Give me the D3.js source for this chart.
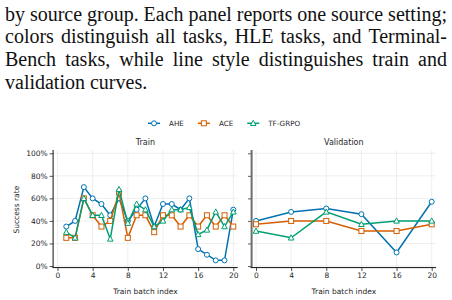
<!DOCTYPE html>
<html>
<head>
<meta charset="utf-8">
<script src="https://cdn.jsdelivr.net/npm/d3@7"></script>
<style>
  html, body { margin: 0; padding: 0; background: #fff; }
  svg { display: block; }
  .tick text { font-family: "DejaVu Sans", sans-serif; font-size: 7.5px; fill: #262626; }
  .tick line { stroke: #262626; stroke-width: 0.8; }
</style>
</head>
<body>
<div id="chart"></div>
<script>
// paragraph text above the figure
const captionLines = [
  "by source group. Each panel reports one source setting;",
  "colors distinguish all tasks, HLE tasks, and Terminal-",
  "Bench tasks, while line style distinguishes train and",
  "validation curves."
];

// train panel
const trainBatch = [1, 2, 3, 4, 5, 6, 7, 8, 9, 10, 11, 12, 13, 14, 15, 16, 17, 18, 19, 20];
const trainAHE = [35, 40, 70, 60, 55, 45, 60, 40, 50, 60, 35, 55, 55, 50, 60, 15, 10, 5, 5, 50];
const trainACE = [25, 25, 60, 45, 35, 40, 65, 25, 45, 45, 30, 45, 45, 35, 45, 35, 45, 35, 45, 35];
const trainTF = [30, 25, 60, 45, 45, 24, 68, 38, 55, 50, 35, 40, 50, 50, 52, 28, 32, 48, 35, 48];

// validation panel
const valBatch = [0, 4, 8, 12, 16, 20];
const valAHE = [40, 48, 51, 46, 12, 57];
const valACE = [37, 40, 40, 31, 31, 37];
const valTF = [31, 25, 48, 37, 40, 40];

const xTicks = [0, 4, 8, 12, 16, 20];
const yTicks = [0, 20, 40, 60, 80, 100];

const methods = [
  {name: "AHE", color: "#0072B2", marker: "circle"},
  {name: "ACE", color: "#D55E00", marker: "square"},
  {name: "TF-GRPO", color: "#009E73", marker: "triangle"}
];

const width = 452, height = 300;

let svg = d3.select("#chart").append("svg")
    .attr("width", width)
    .attr("height", height);

// ---- caption, justified word by word ----
let capLeft = 5, capRight = 447;
captionLines.forEach(function(line, i) {
    let baseline = 20.7 + i * 22.7;
    let words = line.split(" ");
    let g = svg.append("g");
    let nodes = words.map(function(w) {
        return g.append("text")
            .attr("y", baseline)
            .attr("font-family", "Liberation Serif, Times New Roman, serif")
            .style("font-size", "20px")
            .style("fill", "#111")
            .text(w);
    });
    let widths = nodes.map(function(n) { return n.node().getComputedTextLength(); });
    let last = i === captionLines.length - 1;
    let gap = last ? 5 : (capRight - capLeft - d3.sum(widths)) / (words.length - 1);
    let cx = capLeft;
    nodes.forEach(function(n, j) {
        n.attr("x", cx);
        cx += widths[j] + gap;
    });
});

// ---- shared scales ----
let y = d3.scaleLinear().domain([0, 100]).range([266, 153.3]);
let yTop = 150, yBottom = 267.6;

let panels = [
  {title: "Train", xs: trainBatch, series: [trainAHE, trainACE, trainTF], range: [57.5, 233.3], labels: true},
  {title: "Validation", xs: valBatch, series: [valAHE, valACE, valTF], range: [256, 431.7], labels: false}
];

function drawMarker(sel, type, color) {
    if (type === "circle") {
        sel.append("circle").attr("r", 2.5);
    } else if (type === "square") {
        sel.append("rect").attr("x", -2.5).attr("y", -2.5).attr("width", 5).attr("height", 5);
    } else {
        sel.append("path").attr("d", "M0,-3L2.8,2.2L-2.8,2.2Z");
    }
    sel.selectAll("*")
        .style("fill", "#fff")
        .style("stroke", color)
        .style("stroke-width", 1);
}

panels.forEach(function(p) {
    let x = d3.scaleLinear().domain([0, 20]).range(p.range);
    let left = x(-0.5), right = x(20.5);
    let g = svg.append("g");

    // grid
    g.selectAll(".hgrid").data(yTicks).enter().append("line")
        .attr("x1", left).attr("x2", right)
        .attr("y1", function(d) { return y(d); })
        .attr("y2", function(d) { return y(d); })
        .style("stroke", "#ebebeb").style("stroke-width", 0.8);
    g.selectAll(".vgrid").data(xTicks).enter().append("line")
        .attr("x1", function(d) { return x(d); })
        .attr("x2", function(d) { return x(d); })
        .attr("y1", yTop).attr("y2", yBottom)
        .style("stroke", "#ebebeb").style("stroke-width", 0.8);

    // axes
    let yAxis = d3.axisLeft(y).tickValues(yTicks).tickSize(3.5).tickPadding(2)
        .tickFormat(p.labels ? function(d) { return d + "%"; } : "");
    let ya = g.append("g").attr("transform", "translate(" + left + ",0)").call(yAxis);
    ya.select(".domain").remove();

    let xAxis = d3.axisBottom(x).tickValues(xTicks).tickSize(3.5).tickPadding(2);
    let xa = g.append("g").attr("transform", "translate(0," + yBottom + ")").call(xAxis);
    xa.select(".domain").remove();

    g.append("line")
        .attr("x1", left).attr("x2", left)
        .attr("y1", yTop).attr("y2", yBottom)
        .style("stroke", p.labels ? "#111" : "#6e6e6e")
        .style("stroke-width", p.labels ? 1 : 2);
    g.append("line")
        .attr("x1", left - (p.labels ? 0.5 : 1)).attr("x2", right)
        .attr("y1", yBottom).attr("y2", yBottom)
        .style("stroke", "#111").style("stroke-width", 1);

    // titles
    g.append("text")
        .attr("x", (left + right) / 2).attr("y", 145)
        .style("text-anchor", "middle")
        .style("font-family", "'DejaVu Sans', sans-serif")
        .style("font-size", "8px").style("fill", "#262626")
        .text(p.title);
    g.append("text")
        .attr("x", (left + right) / 2).attr("y", 293.5)
        .style("text-anchor", "middle")
        .style("font-family", "'DejaVu Sans', sans-serif")
        .style("font-size", "7.5px").style("fill", "#262626")
        .text("Train batch index");

    // series
    let line = d3.line()
        .x(function(d) { return x(d[0]); })
        .y(function(d) { return y(d[1]); });
    methods.forEach(function(m, k) {
        let pts = p.xs.map(function(v, j) { return [v, p.series[k][j]]; });
        g.append("path")
            .datum(pts)
            .attr("d", line)
            .style("fill", "none")
            .style("stroke", m.color)
            .style("stroke-width", 1.5);
        let mk = g.selectAll(".m" + k).data(pts).enter().append("g")
            .attr("transform", function(d) { return "translate(" + x(d[0]) + "," + y(d[1]) + ")"; });
        drawMarker(mk, m.marker, m.color);
    });
});

// y label
svg.append("text")
    .attr("transform", "translate(18.5," + ((y(0) + y(100)) / 2) + ") rotate(-90)")
    .style("text-anchor", "middle")
    .style("font-family", "'DejaVu Sans', sans-serif")
    .style("font-size", "7.5px").style("fill", "#262626")
    .text("Success rate");

// legend
let lx = 148, ly = 123.3;
methods.forEach(function(m) {
    let lg = svg.append("g");
    lg.append("line")
        .attr("x1", lx).attr("x2", lx + 12)
        .attr("y1", ly).attr("y2", ly)
        .style("stroke", m.color).style("stroke-width", 1.5);
    let mk = lg.append("g").attr("transform", "translate(" + (lx + 6) + "," + ly + ")");
    drawMarker(mk, m.marker, m.color);
    let t = lg.append("text")
        .attr("x", lx + 21).attr("y", ly).attr("dy", "0.35em")
        .style("font-family", "'DejaVu Sans', sans-serif")
        .style("font-size", "7.2px").style("fill", "#262626")
        .text(m.name);
    lx += 21 + t.node().getComputedTextLength() + 14;
});
</script>
</body>
</html>
